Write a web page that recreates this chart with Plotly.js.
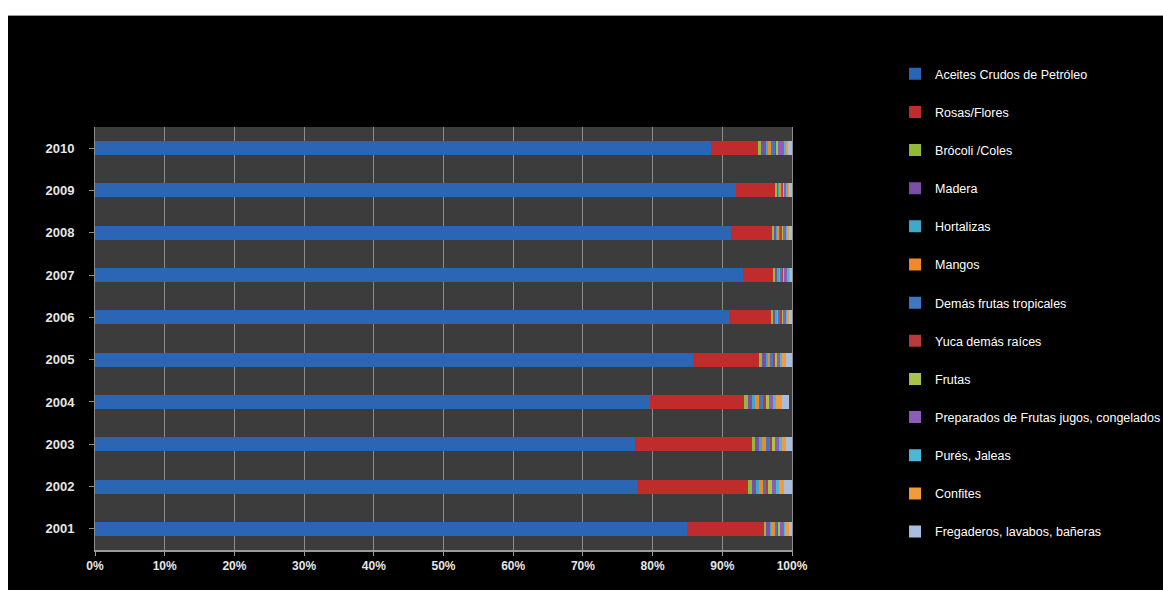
<!DOCTYPE html>
<html>
<head>
<meta charset="utf-8">
<script src="https://cdn.plot.ly/plotly-3.0.1.min.js"></script>
<style>
  html, body { margin: 0; padding: 0; background: #ffffff; }
  #frame { position: absolute; left: 8px; top: 15px; width: 1155px; height: 575px; background: #000; border-top: 1px solid #9a9a9a; }
  #chart { width: 1155px; height: 575px; }
</style>
</head>
<body>
<div id="frame"><div id="chart"></div></div>
<script>
const years = ['2001','2002','2003','2004','2005','2006','2007','2008','2009','2010'];
const seriesNames = [
  'Aceites Crudos de Petróleo',
  'Rosas/Flores',
  'Brócoli /Coles',
  'Madera',
  'Hortalizas',
  'Mangos',
  'Demás frutas tropicales',
  'Yuca demás raíces',
  'Frutas',
  'Preparados de Frutas jugos, congelados',
  'Purés, Jaleas',
  'Confites',
  'Fregaderos, lavabos, bañeras'
];
const seriesColors = ['#2a66b4','#c02c2c','#93b83a','#7a4fa8','#3fa9c9','#ef8a2a','#3f78c0','#b83a3a','#a6c34a','#8c5cb8','#4cb8d6','#f39a3a','#a9bde0'];

// percentage shares, one array per series, ordered 2001..2010
const aceites    = [85.0, 77.8, 77.5, 79.6, 85.8, 91.0, 92.9, 91.2, 92.0, 88.4];
const rosas      = [11.0, 15.9, 16.7, 13.5,  9.5,  6.0,  4.4,  5.9,  5.6,  6.7];
const brocoli    = [0.3, 0.6, 0.5, 0.6, 0.4, 0.3, 0.3, 0.3, 0.2, 0.5];
const madera     = [0.5, 0.5, 0.6, 0.6, 0.5, 0.3, 0.3, 0.3, 0.2, 0.6];
const hortalizas = [0.2, 0.4, 0.4, 0.4, 0.3, 0.2, 0.2, 0.2, 0.2, 0.4];
const mangos     = [0.6, 0.6, 0.6, 0.6, 0.4, 0.2, 0.2, 0.2, 0.2, 0.4];
const demasFrut  = [0.2, 0.5, 0.5, 0.6, 0.4, 0.3, 0.2, 0.2, 0.2, 0.5];
const yuca       = [0.2, 0.3, 0.3, 0.3, 0.2, 0.2, 0.2, 0.2, 0.1, 0.2];
const frutas     = [0.3, 0.5, 0.4, 0.5, 0.3, 0.2, 0.2, 0.2, 0.2, 0.3];
const preparados = [0.5, 0.6, 0.6, 0.6, 0.5, 0.4, 0.4, 0.4, 0.3, 0.8];
const pures      = [0.2, 0.4, 0.4, 0.4, 0.3, 0.2, 0.2, 0.2, 0.2, 0.3];
const confites   = [0.6, 0.8, 0.7, 0.9, 0.6, 0.3, 0.2, 0.3, 0.2, 0.3];
const fregaderos = [0.4, 1.1, 0.8, 0.9, 0.8, 0.4, 0.3, 0.4, 0.4, 0.6];

const seriesValues = [aceites, rosas, brocoli, madera, hortalizas, mangos, demasFrut, yuca, frutas, preparados, pures, confites, fregaderos];
const xTicks = [0,10,20,30,40,50,60,70,80,90,100];
const xTickText = xTicks.map(v => v + '%');

const font = 'Liberation Sans, Arial, sans-serif';

const traces = seriesNames.map((name, i) => ({
  type: 'bar',
  orientation: 'h',
  name: name,
  y: years,
  x: seriesValues[i],
  legendgroup: 'g' + i,
  marker: { color: seriesColors[i], line: { width: 0 } },
  hoverinfo: 'name+x'
}));

const layout = {
  width: 1155,
  height: 575,
  paper_bgcolor: '#000000',
  plot_bgcolor: '#3c3c3c',
  barmode: 'stack',
  bargap: 0.67,
  margin: { l: 87, r: 371, t: 111, b: 41 },
  showlegend: true,
  legend: {
    xref: 'container', yref: 'container',
    x: 0.768, y: 0.925, xanchor: 'left', yanchor: 'top',
    traceorder: 'grouped',
    tracegroupgap: 18.9,
    maxheight: 560,
    font: { family: font, size: 12.5, color: '#ffffff' },
    itemwidth: 30,
    bgcolor: 'rgba(0,0,0,0)'
  },
  xaxis: {
    range: [0, 100],
    tickvals: xTicks,
    ticktext: xTickText,
    showgrid: true,
    gridcolor: '#8c8c8c',
    gridwidth: 1,
    zeroline: false,
    showline: true,
    linecolor: '#9a9a9a',
    linewidth: 2,
    ticks: 'outside',
    ticklen: 4,
    tickcolor: '#9a9a9a',
    tickfont: { family: font, size: 12, color: '#e6e6e6', weight: 'bold' },
    fixedrange: true
  },
  yaxis: {
    type: 'category',
    categoryorder: 'array',
    categoryarray: years,
    showgrid: false,
    showline: true,
    mirror: true,
    linecolor: '#8c8c8c',
    linewidth: 1,
    ticks: 'outside',
    ticklen: 5,
    ticklabelstandoff: 12,
    tickcolor: '#8c8c8c',
    tickfont: { family: font, size: 13, color: '#e6e6e6', weight: 'bold' },
    fixedrange: true
  }
};

Plotly.newPlot('chart', traces, layout, { displayModeBar: false, staticPlot: true });
</script>
</body>
</html>
